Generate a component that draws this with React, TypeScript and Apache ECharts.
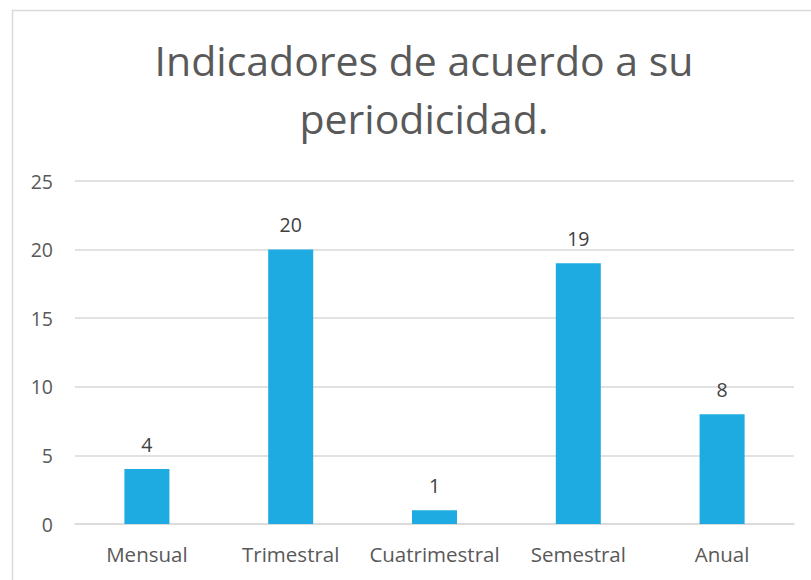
import React, { useEffect, useRef } from "react";
import * as echarts from "echarts";

const categories = ["Mensual", "Trimestral", "Cuatrimestral", "Semestral", "Anual"];
const values = [4, 20, 1, 19, 8];
const titleText = "Indicadores de acuerdo a su\nperiodicidad.";

const FONT = "'Open Sans', 'Liberation Sans', sans-serif";

export default function App() {
  const ref = useRef<HTMLDivElement>(null);
  useEffect(() => {
    if (!ref.current) return;
    const chart = echarts.init(ref.current, undefined, { renderer: "svg" });
    chart.setOption({
      animation: false,
      backgroundColor: "#ffffff",
      title: {
        text: titleText,
        left: 419,
        top: 26,
        textAlign: "center",
        textStyle: {
          fontFamily: FONT,
          fontSize: 41,
          fontWeight: "normal",
          color: "#595959",
          lineHeight: 58,
        },
      },
      graphic: [
        {
          type: "rect",
          shape: { x: 12.5, y: 10.5, width: 820, height: 600 },
          style: { fill: "none", stroke: "#d9d9d9", lineWidth: 1.5 },
          silent: true,
        },
      ],
      grid: { left: 75, right: 17, top: 181, bottom: 56, containLabel: false },
      xAxis: {
        type: "category",
        data: categories,
        axisLine: { show: true, lineStyle: { color: "#d9d9d9", width: 1.5 } },
        axisTick: { show: false },
        axisLabel: {
          interval: 0,
          fontFamily: FONT,
          fontSize: 20.5,
          color: "#595959",
          margin: 19,
        },
      },
      yAxis: {
        type: "value",
        min: 0,
        max: 25,
        interval: 5,
        axisLine: { show: false },
        axisTick: { show: false },
        splitLine: { lineStyle: { color: "#d9d9d9", width: 1.5 } },
        axisLabel: {
          fontFamily: FONT,
          fontSize: 19.5,
          color: "#595959",
          margin: 22,
        },
      },
      series: [
        {
          type: "bar",
          data: values,
          barWidth: 45,
          itemStyle: { color: "#1DABE2" },
          label: {
            show: true,
            position: "top",
            distance: 15,
            fontFamily: FONT,
            fontSize: 19.5,
            color: "#404040",
          },
        },
      ],
    });
    return () => chart.dispose();
  }, []);
  return (
    <div
      ref={ref}
      style={{ position: "absolute", left: 0, top: 0, width: 811, height: 580 }}
    />
  );
}
